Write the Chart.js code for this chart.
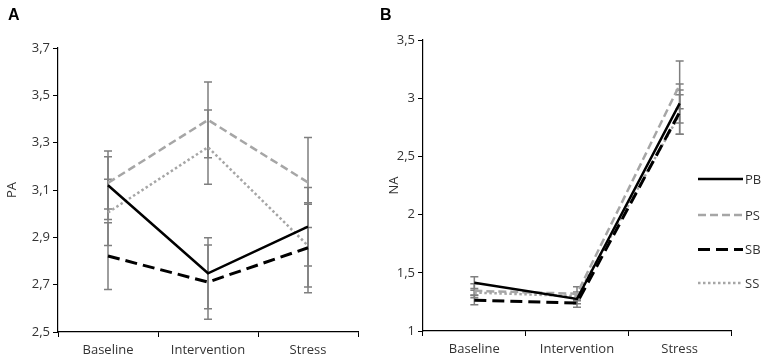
<!DOCTYPE html>
<html>
<head>
  <meta charset="utf-8" />
  <script src="https://cdn.jsdelivr.net/npm/chart.js@4.4.1/dist/chart.umd.min.js"></script>
  <style>
    body { margin: 0; background: #fff; font-family: 'Open Sans', sans-serif; }
    #wrap { position: relative; width: 765px; height: 359px; overflow: hidden; }
    #chartA { position: absolute; left: 0; top: 0; }
    #chartB { position: absolute; left: 380px; top: 0; }
    .panel { position: absolute; font-family: 'Liberation Sans', Arial, sans-serif; font-weight: bold; font-size: 16px; color: #000; }
  </style>
</head>
<body>
<div id="wrap">
  <canvas id="chartA" width="380" height="359"></canvas>
  <canvas id="chartB" width="385" height="359"></canvas>
  <div class="panel" style="left:8px; top:6px;">A</div>
  <div class="panel" style="left:380px; top:6px;">B</div>
</div>

<script>
/* ---------- Data ---------- */
const categories = ['Baseline', 'Intervention', 'Stress'];
const seriesNames = ['PB', 'PS', 'SB', 'SS'];

// Panel A: PA means and error half-widths
const paPB = [3.12, 2.748, 2.945];   const paPBErr = [0.145, 0.15, 0.166];
const paPS = [3.13, 3.396, 3.132];   const paPSErr = [0.11, 0.16, 0.19];
const paSB = [2.821, 2.711, 2.856];  const paSBErr = [0.141, 0.157, 0.19];
const paSS = [3.005, 3.281, 2.865];  const paSSErr = [0.14, 0.157, 0.175];

// Panel B: NA means and error half-widths
const naPB = [1.415, 1.275, 2.955];  const naPBErr = [0.05, 0.04, 0.167];
const naPS = [1.345, 1.32, 3.115];   const naPSErr = [0.06, 0.06, 0.205];
const naSB = [1.265, 1.24, 2.88];    const naSBErr = [0.04, 0.035, 0.19];
const naSS = [1.33, 1.30, 2.86];     const naSSErr = [0.02, 0.035, 0.17];

const paTicks = { min: 2.5, max: 3.7, step: 0.2 };
const naTicks = { min: 1, max: 3.5, step: 0.5 };

/* ---------- Styles ---------- */
const FONT = "'Open Sans', sans-serif";
const TXT = '#333333';
const styles = {
  PB: { borderColor: '#000000', borderWidth: 2.5, borderDash: [] },
  PS: { borderColor: '#a6a6a6', borderWidth: 2.5, borderDash: [8, 4] },
  SB: { borderColor: '#000000', borderWidth: 3, borderDash: [12, 6] },
  SS: { borderColor: '#a6a6a6', borderWidth: 2.5, borderDash: [2.5, 2.5] }
};

function makeSets(vals, errs){
  return seriesNames.map((n, i) => Object.assign({
    label: n, data: vals[i], errors: errs[i],
    pointRadius: 0, pointHoverRadius: 0, fill: false, tension: 0,
    borderCapStyle: 'butt', borderJoinStyle: 'miter'
  }, styles[n]));
}

const fmt = v => String(Math.round(v * 10) / 10).replace('.', ',');

/* ---------- Plugins ---------- */
const errorBars = {
  id: 'errorBars',
  beforeDatasetsDraw(chart){
    const ctx = chart.ctx, y = chart.scales.y;
    ctx.save();
    ctx.strokeStyle = '#7f7f7f';
    ctx.lineWidth = 1.5;
    ctx.setLineDash([]);
    chart.data.datasets.forEach((ds, di) => {
      const meta = chart.getDatasetMeta(di);
      meta.data.forEach((pt, i) => {
        const x = pt.x, e = ds.errors[i], v = ds.data[i];
        const yt = y.getPixelForValue(v + e), yb = y.getPixelForValue(v - e);
        ctx.beginPath();
        ctx.moveTo(x, yt); ctx.lineTo(x, yb);
        ctx.moveTo(x - 4, yt); ctx.lineTo(x + 4, yt);
        ctx.moveTo(x - 4, yb); ctx.lineTo(x + 4, yb);
        ctx.stroke();
      });
    });
    ctx.restore();
  }
};

const sideLegend = {
  id: 'sideLegend',
  afterDraw(chart){
    const ctx = chart.ctx;
    const x0 = 318, x1 = 363, ys = [179, 215, 249.5, 283];
    ctx.save();
    chart.data.datasets.forEach((ds, i) => {
      ctx.strokeStyle = ds.borderColor;
      ctx.lineWidth = ds.borderWidth;
      ctx.setLineDash(ds.borderDash);
      ctx.lineCap = 'butt';
      ctx.beginPath();
      ctx.moveTo(x0, ys[i]); ctx.lineTo(x1, ys[i]);
      ctx.stroke();
      ctx.setLineDash([]);
      ctx.fillStyle = TXT;
      ctx.font = '13px ' + FONT;
      ctx.textBaseline = 'middle';
      ctx.fillText(ds.label, x1 + 2, ys[i] + 1);
    });
    ctx.restore();
  }
};

/* ---------- Chart builder ---------- */
function build(id, sets, ticks, title, pad, yWidth, xHeight, titlePad, extra){
  return new Chart(document.getElementById(id), {
    type: 'line',
    data: { labels: categories, datasets: sets },
    options: {
      responsive: false, animation: false,
      layout: { padding: pad },
      plugins: { legend: { display: false }, tooltip: { enabled: false } },
      scales: {
        x: {
          offset: true,
          grid: { offset: true, drawOnChartArea: false, color: '#000', tickLength: 5 },
          border: { color: '#000', width: 1.2 },
          ticks: { color: TXT, font: { family: FONT, size: 13 }, padding: 5, maxRotation: 0 },
          afterFit(s){ s.height = xHeight; }
        },
        y: {
          min: ticks.min, max: ticks.max,
          grid: { drawOnChartArea: false, color: '#000', tickLength: 5 },
          border: { color: '#000', width: 1.2 },
          ticks: { stepSize: ticks.step, color: TXT, font: { family: FONT, size: 13 }, padding: 3, callback: fmt },
          title: { display: true, text: title, color: TXT, font: { family: FONT, size: 13 }, padding: { top: titlePad, bottom: 0 } },
          afterFit(s){ s.width = yWidth; }
        }
      }
    },
    plugins: [errorBars].concat(extra)
  });
}

build('chartA',
  makeSets([paPB, paPS, paSB, paSS], [paPBErr, paPSErr, paSBErr, paSSErr]),
  paTicks, 'PA', { top: 48, right: 22, bottom: 0, left: 0 }, 58, 27, 4, []);

build('chartB',
  makeSets([naPB, naPS, naSB, naSS], [naPBErr, naPSErr, naSBErr, naSSErr]),
  naTicks, 'NA', { top: 40, right: 34, bottom: 0, left: 0 }, 43, 28, 6, [sideLegend]);
</script>
</body>
</html>
